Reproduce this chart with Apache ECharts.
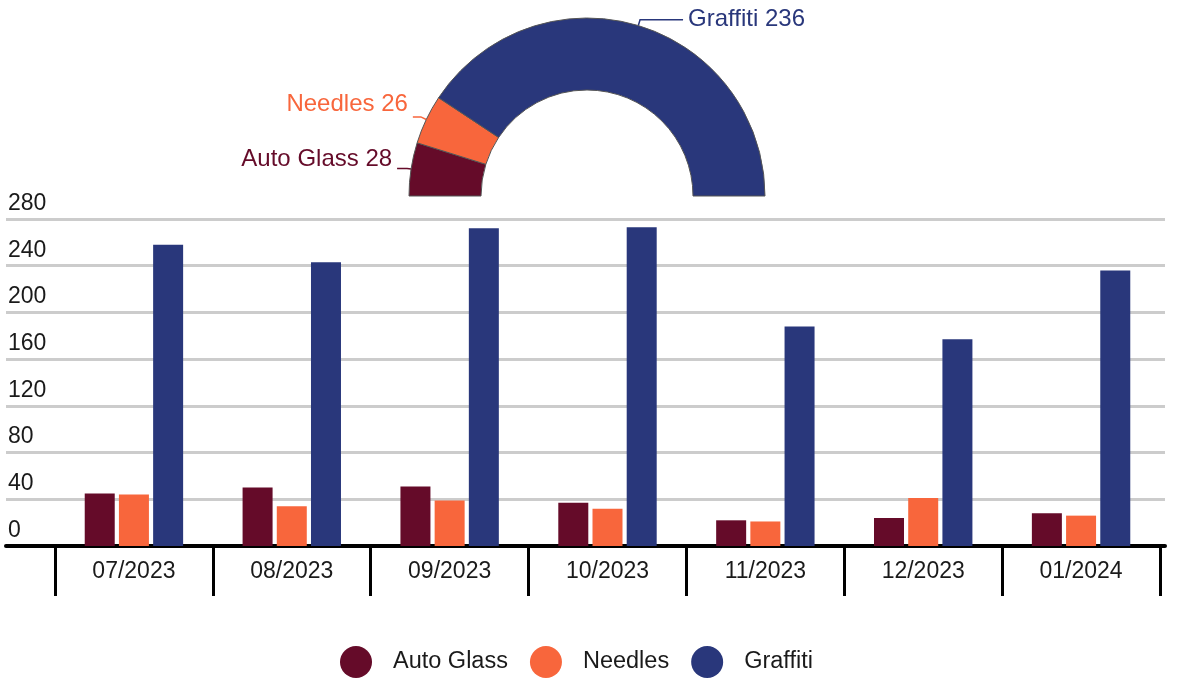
<!DOCTYPE html>
<html>
<head>
<meta charset="utf-8">
<script src="https://cdn.jsdelivr.net/npm/echarts@6/dist/echarts.min.js"></script>
<style>
html,body{margin:0;padding:0;background:#fff;}
#chart{width:1177px;height:680px;}
</style>
</head>
<body>
<div id="chart"></div>
<script>
const categories = ['07/2023','08/2023','09/2023','10/2023','11/2023','12/2023','01/2024'];
const autoGlass = [45, 50, 51, 37, 22, 24, 28];
const needles   = [44, 34, 39, 32, 21, 41, 26];
const graffiti  = [258, 243, 272, 273, 188, 177, 236];
const seriesNames = ['Auto Glass', 'Needles', 'Graffiti'];
const colors = ['#650b29', '#f8663c', '#29377b'];
const pieValues = [28, 26, 236];
const yTicks = [0, 40, 80, 120, 160, 200, 240, 280];

const chart = echarts.init(document.getElementById('chart'), null, {renderer: 'canvas'});
const font = '"Liberation Sans", Arial, sans-serif';

const pieLineLen = [[4, 10], [6, 8], [6, 43]];
const pieLabelDy = [-9, -13, 0];

const option = {
  animation: false,
  color: colors,
  legend: {
    data: seriesNames,
    left: 335,
    top: 641,
    icon: 'circle',
    itemWidth: 32,
    itemHeight: 32,
    itemGap: 22,
    textStyle: {fontFamily: font, fontSize: 23.5, color: '#1a1a1a', padding: [0, 0, 0, 16]}
  },
  grid: [
    {left: 6, right: 12, top: 219, bottom: 134, containLabel: false},
    {left: 55, right: 17, top: 219, bottom: 134, containLabel: false}
  ],
  xAxis: [
    {
      gridIndex: 0, type: 'value', min: 0, max: 1,
      axisLine: {show: true, lineStyle: {color: '#000', width: 4}},
      axisTick: {show: false}, axisLabel: {show: false}, splitLine: {show: false}
    },
    {
      gridIndex: 1, type: 'category', data: categories,
      axisLine: {show: false},
      axisTick: {show: true, length: 50, lineStyle: {color: '#000', width: 3}},
      axisLabel: {fontFamily: font, fontSize: 23, color: '#1a1a1a', margin: 14},
      splitLine: {show: false}
    }
  ],
  yAxis: [
    {
      gridIndex: 0, type: 'value', min: 0, max: 280, interval: 40,
      axisLine: {show: false}, axisTick: {show: false},
      axisLabel: {
        inside: true, margin: 2, fontFamily: font, fontSize: 23, color: '#1a1a1a',
        verticalAlign: 'bottom', padding: [0, 0, 4, 0],
        formatter: v => (yTicks.indexOf(v) >= 0 ? String(v) : '')
      },
      splitLine: {show: true, lineStyle: {color: '#cccccc', width: 3}}
    },
    {
      gridIndex: 1, type: 'value', min: 0, max: 280, interval: 40, show: false,
      splitLine: {show: false}
    }
  ],
  series: [
    {name: seriesNames[0], type: 'bar', xAxisIndex: 1, yAxisIndex: 1, data: autoGlass, barWidth: 30, barGap: '14%', itemStyle: {color: colors[0]}, z: 3},
    {name: seriesNames[1], type: 'bar', xAxisIndex: 1, yAxisIndex: 1, data: needles, barWidth: 30, barGap: '14%', itemStyle: {color: colors[1]}, z: 3},
    {name: seriesNames[2], type: 'bar', xAxisIndex: 1, yAxisIndex: 1, data: graffiti, barWidth: 30, barGap: '14%', itemStyle: {color: colors[2]}, z: 3},
    {
      name: 'Breakdown', type: 'pie',
      center: [587, 196], radius: [106, 178],
      startAngle: 180, endAngle: 360,
      clockwise: true,
      avoidLabelOverlap: false,
      itemStyle: {borderColor: '#555', borderWidth: 1},
      label: {
        show: true, position: 'outside', fontFamily: font, fontSize: 24,
        formatter: p => p.name + ' ' + p.value
      },
      labelLine: {show: true, length: 6, length2: 14, smooth: false, lineStyle: {width: 1.5}},
      labelLayout: p => ({dy: pieLabelDy[p.dataIndex]}),
      data: seriesNames.map((n, i) => ({
        name: n, value: pieValues[i],
        itemStyle: {color: colors[i]},
        label: {color: colors[i]},
        labelLine: {length: pieLineLen[i][0], length2: pieLineLen[i][1], lineStyle: {color: colors[i]}}
      })),
      z: 5
    }
  ]
};
chart.setOption(option);
</script>
</body>
</html>
